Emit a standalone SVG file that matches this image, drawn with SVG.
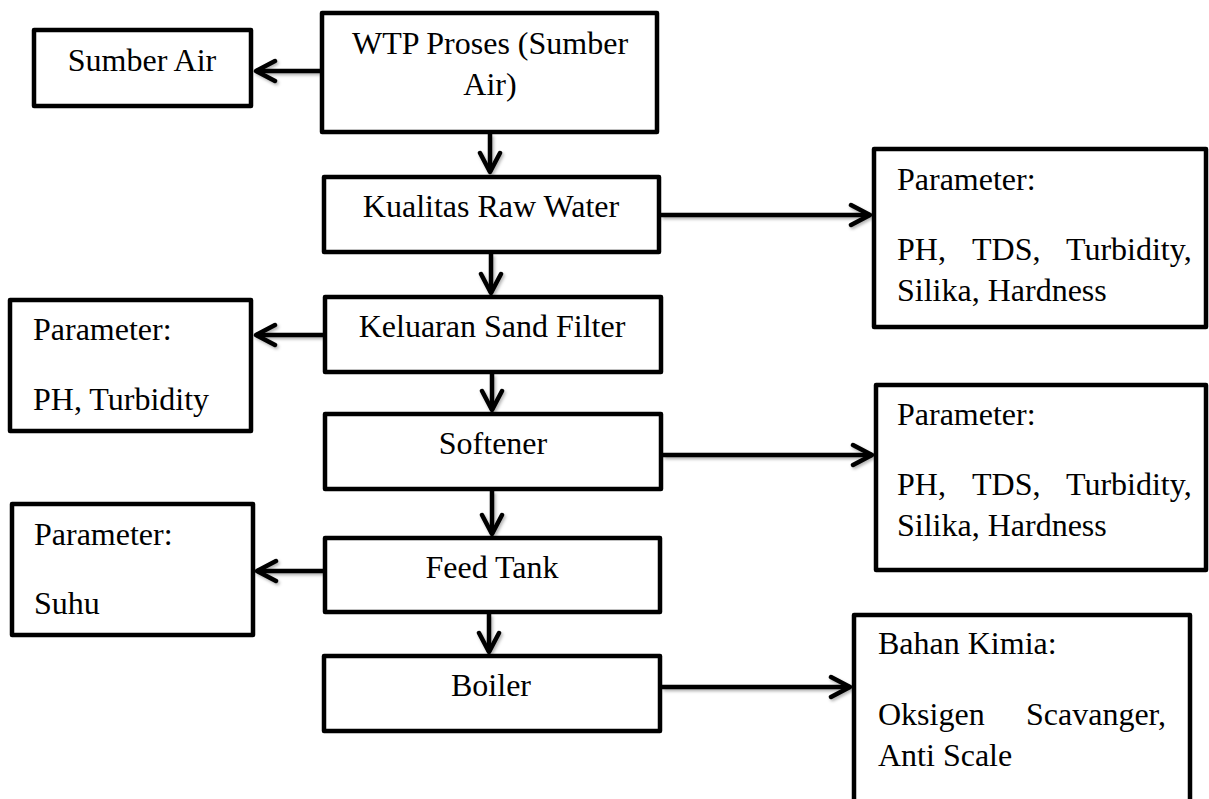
<svg xmlns="http://www.w3.org/2000/svg" width="1209" height="799" viewBox="0 0 1209 799">
  <style>
    .box { fill: #ffffff; stroke: #000000; stroke-width: 4.5; stroke-linejoin: round; }
    .t { font-family: "Liberation Serif", "Times New Roman", serif; font-size: 32px; fill: #000000; }
    .c { text-anchor: middle; }
    .conn { fill: none; stroke: #000000; stroke-width: 4.5; }
  </style>
  <defs>
    <marker id="arr" markerUnits="userSpaceOnUse" viewBox="0 0 26 26" markerWidth="26" markerHeight="26" refX="22" refY="13" orient="auto">
      <path d="M 3 3 L 22 13 L 3 23" fill="none" stroke="#000000" stroke-width="4.5" stroke-linecap="round" stroke-linejoin="round"/>
    </marker>
    <filter id="sh" x="-10%" y="-50%" width="120%" height="200%">
      <feDropShadow dx="1.5" dy="2" stdDeviation="1.5" flood-color="#000000" flood-opacity="0.3"/>
    </filter>
  </defs>
  <rect width="1209" height="799" fill="#ffffff"/>

  <g id="connectors" class="conn" filter="url(#sh)">
    <line x1="320" y1="71" x2="256" y2="71" marker-end="url(#arr)"/>
    <line x1="490" y1="134" x2="490" y2="172" marker-end="url(#arr)"/>
    <line x1="491" y1="254" x2="491" y2="293" marker-end="url(#arr)"/>
    <line x1="323" y1="335" x2="256" y2="335" marker-end="url(#arr)"/>
    <line x1="492" y1="374" x2="492" y2="410" marker-end="url(#arr)"/>
    <line x1="492" y1="491" x2="492" y2="534" marker-end="url(#arr)"/>
    <line x1="323" y1="571" x2="257" y2="571" marker-end="url(#arr)"/>
    <line x1="489" y1="614" x2="489" y2="652" marker-end="url(#arr)"/>
    <line x1="661" y1="215" x2="870" y2="215" marker-end="url(#arr)"/>
    <line x1="663" y1="455" x2="872" y2="455" marker-end="url(#arr)"/>
    <line x1="662" y1="687" x2="850" y2="687" marker-end="url(#arr)"/>
  </g>

  <g id="sumber-air">
    <rect class="box" x="34" y="30" width="217" height="76"/>
    <text class="t c" x="142" y="71">Sumber Air</text>
  </g>

  <g id="wtp-proses">
    <rect class="box" x="322" y="13" width="335" height="119"/>
    <text class="t c" x="490" y="54">WTP Proses (Sumber</text>
    <text class="t c" x="490" y="95">Air)</text>
  </g>

  <g id="kualitas-raw-water">
    <rect class="box" x="324" y="177" width="335" height="75"/>
    <text class="t c" x="491" y="217">Kualitas Raw Water</text>
  </g>

  <g id="keluaran-sand-filter">
    <rect class="box" x="325" y="297" width="336" height="75"/>
    <text class="t c" x="492" y="337">Keluaran Sand Filter</text>
  </g>

  <g id="softener">
    <rect class="box" x="325" y="414" width="336" height="75"/>
    <text class="t c" x="493" y="454">Softener</text>
  </g>

  <g id="feed-tank">
    <rect class="box" x="325" y="538" width="335" height="74"/>
    <text class="t c" x="492" y="578">Feed Tank</text>
  </g>

  <g id="boiler">
    <rect class="box" x="324" y="656" width="336" height="75"/>
    <text class="t c" x="491" y="696">Boiler</text>
  </g>

  <g id="param-sand-filter">
    <rect class="box" x="10" y="300" width="241" height="131"/>
    <text class="t" x="33" y="340">Parameter:</text>
    <text class="t" x="33" y="410">PH, Turbidity</text>
  </g>

  <g id="param-feed-tank">
    <rect class="box" x="12" y="504" width="241" height="131"/>
    <text class="t" x="34" y="545">Parameter:</text>
    <text class="t" x="34" y="614">Suhu</text>
  </g>

  <g id="param-raw-water">
    <rect class="box" x="874" y="149" width="332" height="178"/>
    <text class="t" x="897" y="190">Parameter:</text>
    <text class="t" y="260"><tspan x="897">PH,</tspan><tspan x="972">TDS,</tspan><tspan x="1066">Turbidity,</tspan></text>
    <text class="t" x="897" y="301">Silika, Hardness</text>
  </g>

  <g id="param-softener">
    <rect class="box" x="876" y="385" width="330" height="185"/>
    <text class="t" x="897" y="425">Parameter:</text>
    <text class="t" y="495"><tspan x="897">PH,</tspan><tspan x="972">TDS,</tspan><tspan x="1066">Turbidity,</tspan></text>
    <text class="t" x="897" y="536">Silika, Hardness</text>
  </g>

  <g id="bahan-kimia">
    <rect class="box" x="854" y="615" width="336" height="200"/>
    <text class="t" x="878" y="654">Bahan Kimia:</text>
    <text class="t" y="725"><tspan x="878">Oksigen</tspan><tspan x="1026">Scavanger,</tspan></text>
    <text class="t" x="878" y="766">Anti Scale</text>
  </g>
</svg>
